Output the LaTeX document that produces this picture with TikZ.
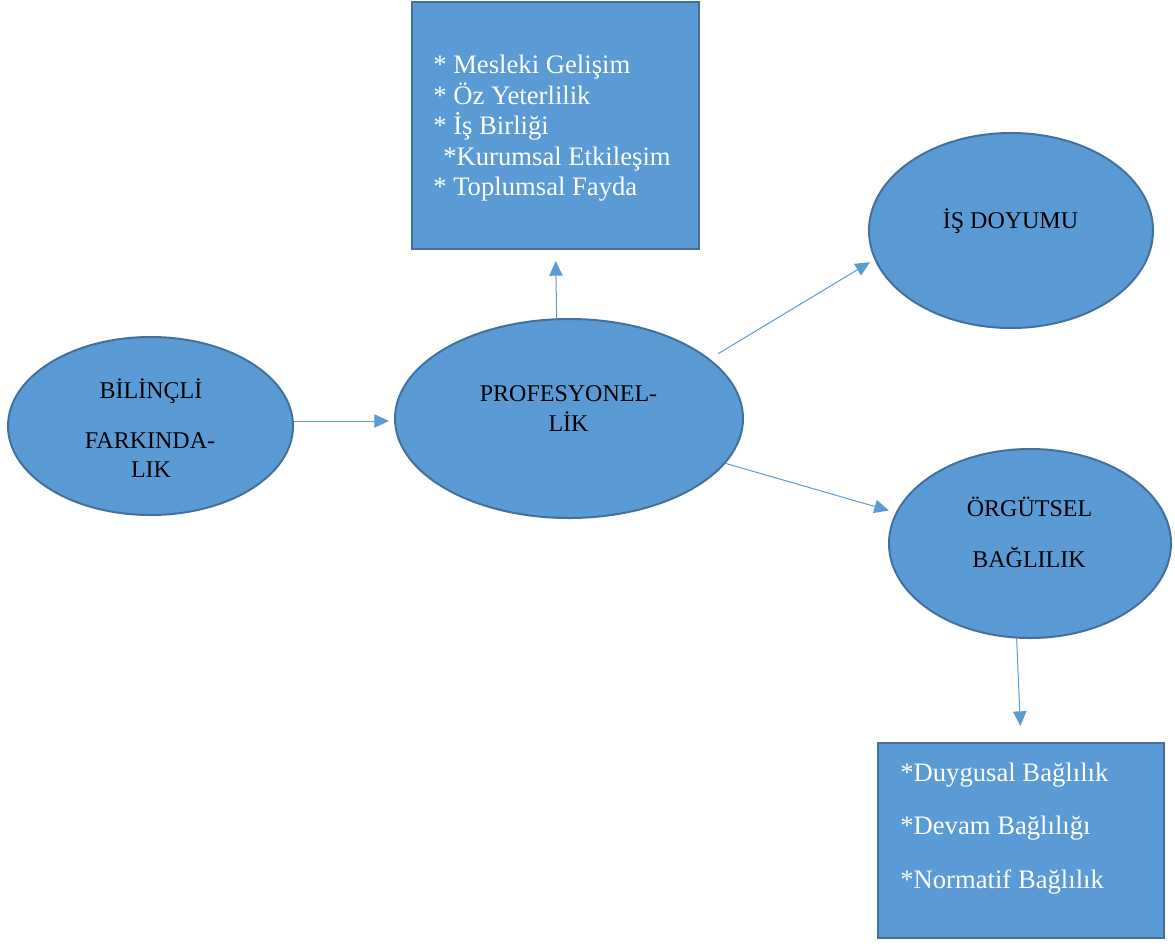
\documentclass[tikz,border=0pt]{standalone}
\usepackage{fontspec}
\setmainfont{Liberation Serif}
\usetikzlibrary{shapes.geometric,arrows.meta}
\definecolor{boxfill}{HTML}{5B9BD5}
\definecolor{boxline}{HTML}{41719C}
\begin{document}
\begin{tikzpicture}[x=0.75pt,y=-0.75pt,
  oval/.style={ellipse,draw=boxline,fill=boxfill,line width=1.5pt,inner sep=0pt},
  listbox/.style={rectangle,draw=boxline,fill=boxfill,line width=1.5pt,inner sep=0pt},
  caption/.style={anchor=base,inner sep=0pt,font=\fontsize{18}{21}\selectfont,text=black},
  item/.style={anchor=base west,inner sep=0pt,font=\fontsize{20}{24}\selectfont,text=white},
  link/.style={draw=boxfill,line width=0.75pt,-{Triangle[length=11pt,width=10pt]}}]
\useasboundingbox (0,0) rectangle (1175,943);

% concept ellipses
\node[oval,minimum width=213.75pt,minimum height=133.5pt] (bil) at (150.5,426) {};
\node[oval,minimum width=261pt,minimum height=149.25pt] (prof) at (569,418.5) {};
\node[oval,minimum width=213pt,minimum height=146.25pt] (doy) at (1011,230.5) {};
\node[oval,minimum width=211.5pt,minimum height=141.75pt] (org) at (1030,543.5) {};

% list boxes
\node[listbox,minimum width=215.25pt,minimum height=185.25pt] (top) at (555.5,125.5) {};
\node[listbox,minimum width=214.5pt,minimum height=146.25pt] (bot) at (1021,840.5) {};

% ellipse captions
\node[caption] (bil1) at (151,398) {BİLİNÇLİ};
\node[caption] (bil2) at (150,448) {FARKINDA-};
\node[caption] (bil3) at (151,477) {LIK};
\node[caption] (prof1) at (568.5,401) {PROFESYONEL-};
\node[caption] (prof2) at (568.5,431) {LİK};
\node[caption] (doy1) at (1010.5,228) {İŞ DOYUMU};
\node[caption] (org1) at (1029.5,516) {ÖRGÜTSEL};
\node[caption] (org2) at (1029,567) {BAĞLILIK};

% items of the upper box
\node[item] (t1) at (433,73) {* Mesleki Gelişim};
\node[item] (t2) at (433,104) {* Öz Yeterlilik};
\node[item] (t3) at (433,134) {* İş Birliği};
\node[item] (t4) at (443,165) {*Kurumsal Etkileşim};
\node[item] (t5) at (433,195) {* Toplumsal Fayda};

% items of the lower box
\node[item] (b1) at (900,781) {*Duygusal Bağlılık};
\node[item] (b2) at (900,834) {*Devam Bağlılığı};
\node[item] (b3) at (900,888) {*Normatif Bağlılık};

% connectors
\draw[link,shorten >=3.75pt] (bil.2) -- (bil.2 -| prof.west);
\draw[link,shorten >=8.25pt] (prof.97) -- (top.south);
\draw[link,shorten <=7.5pt,shorten >=3.75pt] (prof.23) -- (doy.192);
\draw[link,shorten >=5.25pt] (prof.-16) -- (org.167);
\draw[link,shorten >=12pt] (org.-98) -- (bot.north);
\end{tikzpicture}
\end{document}
